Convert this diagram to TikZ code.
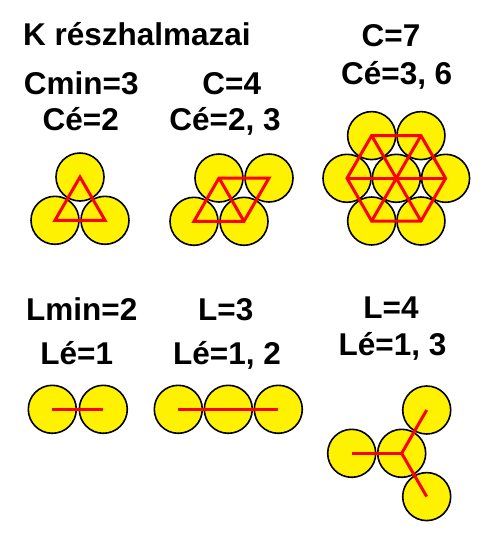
\documentclass[tikz,border=0pt]{standalone}
\usepackage{fontspec}
\setmainfont{Liberation Sans}
\usetikzlibrary{calc}
\begin{document}
\begin{tikzpicture}[x=1pt,y=-1pt,
  ball/.style={circle,draw=black,line width=1.6pt,fill=yellow,minimum size=48pt,inner sep=0pt},
  link/.style={draw=red,line width=3pt,line join=miter},
  lbl/.style={anchor=base,inner sep=0pt,font=\fontsize{31.5}{36}\selectfont\bfseries}]
\useasboundingbox (0,0) rectangle (500,550);
% titles
\node[lbl,anchor=base west] (title) at (23,45) {K részhalmazai};
\node[lbl] (t1a) at (81.3,94) {Cmin=3};
\node[lbl] (t1b) at (80.8,130.7) {Cé=2};
\node[lbl] (t2a) at (231.7,94) {C=4};
\node[lbl] (t2b) at (225,130.7) {Cé=2, 3};
\node[lbl] (t3a) at (391,46.7) {C=7};
\node[lbl] (t3b) at (396.7,84) {Cé=3, 6};
\node[lbl] (t4a) at (81.7,320) {Lmin=2};
\node[lbl] (t4b) at (76.7,364) {Lé=1};
\node[lbl] (t5a) at (225.7,320) {L=3};
\node[lbl] (t5b) at (227,364) {Lé=1, 2};
\node[lbl] (t6a) at (391,318.3) {L=4};
\node[lbl] (t6b) at (392.5,355.7) {Lé=1, 3};
% C=3
\node[ball] (a1) at (80,177) {};
\node[ball] (a2) at (55,220.3) {};
\node[ball] (a3) at (105,220.3) {};
\draw[link] (a1.center) -- (a2.center) -- (a3.center) -- cycle;
% C=4
\node[ball] (b1) at (219,178) {};
\node[ball] (b2) at (269,178) {};
\node[ball] (b3) at (194,221.3) {};
\node[ball] (b4) at (244,221.3) {};
\draw[link] (b3.center) -- (b1.center) -- (b2.center) -- (b4.center) -- cycle;
\draw[link] (b1.center) -- (b4.center);
% C=7
\node[ball] (c0) at (396.3,178.3) {};
\foreach \i/\a in {1/0,2/60,3/120,4/180,5/240,6/300}
  \node[ball] (c\i) at ($(c0.center)+(\a:49.3pt)$) {};
\draw[link] (c1.center) -- (c2.center) -- (c3.center) -- (c4.center) -- (c5.center) -- (c6.center) -- cycle;
\draw[link] (c1.center) -- (c4.center);
\draw[link] (c2.center) -- (c5.center);
\draw[link] (c3.center) -- (c6.center);
% L=2
\node[ball] (d1) at (52.3,409.3) {};
\node[ball] (d2) at (103.3,409.3) {};
\draw[link] (d1.center) -- (d2.center);
% L=3
\node[ball] (e1) at (178.3,409.3) {};
\node[ball] (e2) at (228.3,409.3) {};
\node[ball] (e3) at (278.3,409.3) {};
\draw[link] (e1.center) -- (e2.center) -- (e3.center);
% L=4
\node[ball] (f1) at (351.7,453.3) {};
\node[ball] (f2) at (401.7,453.3) {};
\node[ball] (f3) at (426.7,410) {};
\node[ball] (f4) at (426.7,496.6) {};
\draw[link] (f1.center) -- (f2.center);
\draw[link] (f2.center) -- (f3.center);
\draw[link] (f2.center) -- (f4.center);
\end{tikzpicture}
\end{document}
